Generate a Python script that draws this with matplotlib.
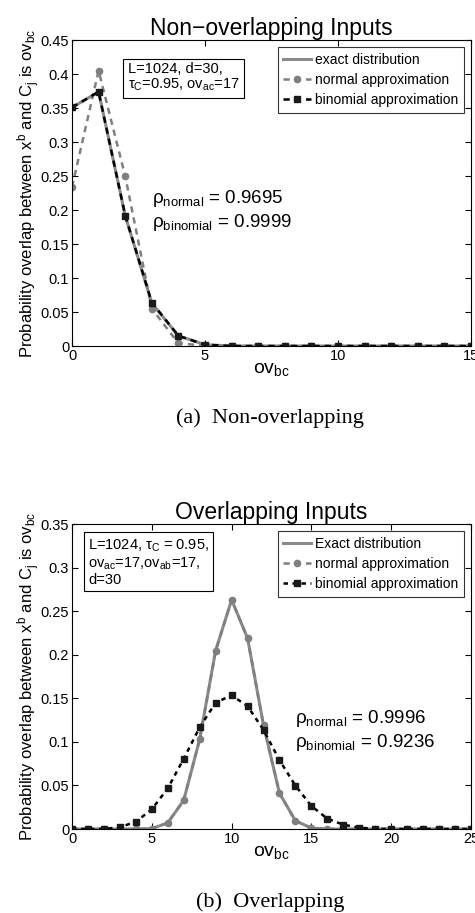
import matplotlib
matplotlib.use('Agg')
import matplotlib.pyplot as plt
from matplotlib.ticker import FuncFormatter

plt.rcParams['font.family'] = ['Liberation Sans', 'DejaVu Sans']
plt.rcParams['mathtext.fontset'] = 'custom'
plt.rcParams['mathtext.rm'] = 'Liberation Sans'
plt.rcParams['mathtext.it'] = 'Liberation Sans:italic'

# (a) non-overlapping inputs, ov_bc = 0..15
ov_a = list(range(16))
exact_a = [0.351, 0.374, 0.192, 0.063, 0.015, 0.002, 0, 0, 0, 0, 0, 0, 0, 0, 0, 0]
normal_a = [0.234, 0.405, 0.250, 0.055, 0.004, 0.0005, 0, 0, 0, 0, 0, 0, 0, 0, 0, 0]
binom_a = [0.351, 0.374, 0.192, 0.064, 0.015, 0.002, 0, 0, 0, 0, 0, 0, 0, 0, 0, 0]

# (b) overlapping inputs, ov_bc = 0..25
ov_b = list(range(26))
exact_b = [0, 0, 0, 0, 0, 0.0005, 0.007, 0.033, 0.103, 0.205, 0.263, 0.219, 0.119,
           0.041, 0.0095, 0.001, 0, 0, 0, 0, 0, 0, 0, 0, 0, 0]
normal_b = [0, 0, 0, 0, 0, 0.0005, 0.007, 0.033, 0.103, 0.204, 0.263, 0.219, 0.119,
            0.041, 0.0095, 0.001, 0, 0, 0, 0, 0, 0, 0, 0, 0, 0]
binom_b = [0, 0, 0, 0.002, 0.0084, 0.0226, 0.0467, 0.0807, 0.1167, 0.145, 0.1535,
           0.141, 0.1137, 0.079, 0.0497, 0.0264, 0.0118, 0.005, 0.0015, 0.0003,
           0, 0, 0, 0, 0, 0]

gray = '#7f7f7f'
ylab = 'Probability overlap between x$^{\\rm b}$ and C$_{\\rm j}$ is ov$_{\\rm bc}$'
gfmt = FuncFormatter(lambda v, p: '%g' % round(v, 4))

fig = plt.figure(figsize=(4.75, 9.13), dpi=100)
ax1 = fig.add_axes([0.1516, 0.621, 0.84, 0.335])
ax2 = fig.add_axes([0.1516, 0.092, 0.84, 0.334])


def draw(ax, x, ex, no, bi, labels, bdash):
    ax.plot(x, ex, color='#8a8a8a', lw=2.2, label=labels[0])
    ax.plot(x, no, color=gray, lw=1.8, ls=(0, (2.5, 2)), marker='o', ms=4.5,
            mfc=gray, mec=gray, label=labels[1])
    ax.plot(x, bi, color='black', lw=1.8, ls=bdash, marker='s', ms=4.5,
            mfc='#1a1a1a', mec='#1a1a1a', label=labels[2])
    ax.tick_params(direction='in', top=True, right=True, labelsize=10.5, length=4, pad=2)
    ax.yaxis.set_major_formatter(gfmt)
    ax.set_ylabel(ylab, fontsize=12, labelpad=-1)
    ax.set_xlabel('ov$_{\\rm bc}$', fontsize=14, labelpad=-1)
    for s in ax.spines.values():
        s.set_linewidth(0.8)
    leg = ax.legend(loc='upper right', fontsize=10, frameon=True, fancybox=False,
                    edgecolor='black', handlelength=2.0, handletextpad=0.3,
                    borderpad=0.4, labelspacing=0.45, borderaxespad=0.5)
    leg.get_frame().set_linewidth(0.8)


draw(ax1, ov_a, exact_a, normal_a, binom_a,
     ['exact distribution', 'normal approximation', 'binomial approximation'],
     (0, (2.5, 2)))
ax1.set_xlim(0, 15)
ax1.set_ylim(0, 0.45)
ax1.set_xticks([0, 5, 10, 15])
ax1.set_yticks([0, 0.05, 0.1, 0.15, 0.2, 0.25, 0.3, 0.35, 0.4, 0.45])
ax1.set_title('Non\u2212overlapping Inputs', fontsize=16.5, pad=4)
ax1.text(0.14, 0.93, 'L=1024, d=30,\nτ$_{\\rm C}$=0.95, ov$_{\\rm ac}$=17',
         transform=ax1.transAxes, fontsize=10.5, va='top', ha='left', linespacing=1.1,
         bbox=dict(boxstyle='square,pad=0.3', fc='white', ec='black', lw=0.8))
ax1.text(0.2, 0.444, 'ρ$_{\\rm normal}$ = 0.9695\nρ$_{\\rm binomial}$ = 0.9999',
         transform=ax1.transAxes, fontsize=13.5, va='center', ha='left',
         linespacing=1.2)

draw(ax2, ov_b, exact_b, normal_b, binom_b,
     ['Exact distribution', 'normal approximation', 'binomial approximation'],
     (0, (1.8, 1.8)))
ax2.set_xlim(0, 25)
ax2.set_ylim(0, 0.35)
ax2.set_xticks([0, 5, 10, 15, 20, 25])
ax2.set_yticks([0, 0.05, 0.1, 0.15, 0.2, 0.25, 0.3, 0.35])
ax2.set_title('Overlapping Inputs', fontsize=16.5, pad=4)
ax2.text(0.04, 0.955, 'L=1024, τ$_{\\rm C}$ = 0.95,\nov$_{\\rm ac}$=17,ov$_{\\rm ab}$=17,\nd=30',
         transform=ax2.transAxes, fontsize=10.5, va='top', ha='left', linespacing=1.1,
         bbox=dict(boxstyle='square,pad=0.3', fc='white', ec='black', lw=0.8))
ax2.text(0.56, 0.322, 'ρ$_{\\rm normal}$ = 0.9996\nρ$_{\\rm binomial}$ = 0.9236',
         transform=ax2.transAxes, fontsize=13.5, va='center', ha='left',
         linespacing=1.2)

fig.text(0.569, 1 - 418 / 913, '(a)  Non-overlapping', family='Liberation Serif',
         fontsize=16, ha='center', va='center')
fig.text(0.569, 1 - 902 / 913, '(b)  Overlapping', family='Liberation Serif',
         fontsize=16, ha='center', va='center')

fig.savefig('out.png', dpi=100)
